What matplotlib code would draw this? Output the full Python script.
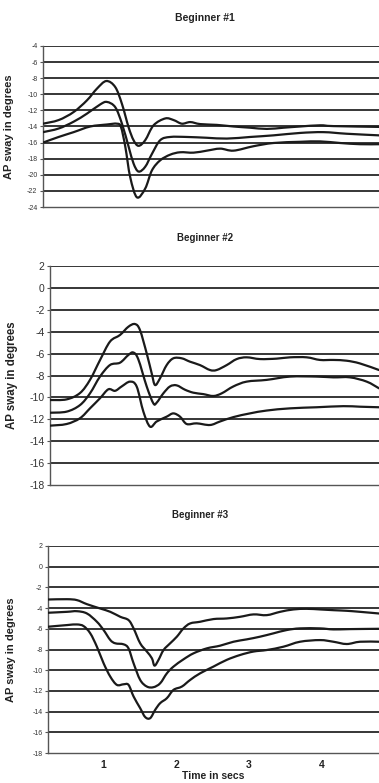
import matplotlib
matplotlib.use("Agg")
import matplotlib.pyplot as plt
from matplotlib.path import Path
from matplotlib.patches import PathPatch
import numpy as np

plt.rcParams['font.family'] = ['Liberation Sans', 'DejaVu Sans']

# ---------------- Beginner #1 ----------------
b1_top_t = [0.236, 0.448, 0.651, 0.831, 0.966, 1.093, 1.214, 1.305, 1.395, 1.462, 1.530, 1.620, 1.733, 1.891, 2.004, 2.116, 2.229, 2.364, 2.590, 2.815, 3.041, 3.266, 3.492, 3.717, 3.988, 4.168, 4.785]
b1_top_v = [-13.65, -13.2, -12.2, -10.75, -9.3, -8.35, -9.1, -11.2, -14.1, -15.7, -16.4, -15.7, -13.85, -13.0, -13.2, -13.65, -13.45, -13.7, -13.8, -14.0, -14.15, -14.3, -14.15, -14.0, -13.85, -13.95, -14.05]

b1_mid_t = [0.236, 0.448, 0.651, 0.831, 1.012, 1.102, 1.214, 1.305, 1.395, 1.462, 1.530, 1.620, 1.711, 1.823, 1.958, 2.184, 2.454, 2.725, 3.041, 3.356, 3.717, 4.033, 4.348, 4.785]
b1_mid_v = [-14.7, -14.25, -13.4, -12.4, -11.25, -10.95, -11.6, -13.65, -16.5, -18.6, -19.6, -19.0, -17.4, -15.7, -15.3, -15.3, -15.4, -15.5, -15.3, -15.1, -14.8, -14.7, -14.9, -15.1]

b1_bot_t = [0.236, 0.448, 0.651, 0.876, 1.102, 1.237, 1.291, 1.350, 1.417, 1.508, 1.620, 1.711, 1.823, 1.958, 2.094, 2.274, 2.454, 2.635, 2.815, 3.086, 3.356, 3.717, 3.988, 4.258, 4.529, 4.785]
b1_bot_v = [-16.0, -15.3, -14.7, -14.0, -13.75, -13.65, -14.05, -16.5, -20.3, -22.8, -21.7, -19.45, -18.2, -17.5, -17.2, -17.25, -17.0, -16.75, -17.0, -16.45, -16.05, -15.9, -15.85, -16.05, -16.2, -16.2]

# ---------------- Beginner #2 ----------------
b2_top_t = [0.236, 0.466, 0.651, 0.789, 0.927, 1.066, 1.204, 1.319, 1.411, 1.480, 1.573, 1.642, 1.688, 1.757, 1.849, 1.941, 2.057, 2.172, 2.310, 2.448, 2.540, 2.679, 2.817, 2.955, 3.140, 3.370, 3.555, 3.785, 3.969, 4.154, 4.338, 4.522, 4.785]
b2_top_v = [-10.24, -10.18, -9.6, -8.4, -6.6, -4.9, -4.3, -3.55, -3.3, -3.85, -5.98, -7.8, -8.87, -8.26, -7.05, -6.43, -6.43, -6.74, -7.05, -7.5, -7.5, -7.05, -6.5, -6.34, -6.5, -6.46, -6.34, -6.34, -6.58, -6.58, -6.65, -6.9, -7.5]

b2_mid_t = [0.236, 0.466, 0.651, 0.789, 0.927, 1.066, 1.204, 1.319, 1.388, 1.457, 1.573, 1.665, 1.711, 1.803, 1.895, 1.987, 2.103, 2.218, 2.356, 2.494, 2.610, 2.771, 2.955, 3.232, 3.555, 3.923, 4.154, 4.384, 4.615, 4.785]
b2_mid_v = [-11.4, -11.3, -10.7, -9.63, -8.1, -7.04, -6.83, -6.13, -5.9, -6.52, -9.0, -10.54, -10.48, -9.63, -9.0, -8.9, -9.3, -9.57, -9.7, -9.87, -9.63, -9.0, -8.56, -8.4, -8.1, -8.1, -8.17, -8.17, -8.56, -9.17]

b2_bot_t = [0.236, 0.466, 0.651, 0.789, 0.927, 1.043, 1.135, 1.227, 1.342, 1.434, 1.527, 1.619, 1.711, 1.849, 1.941, 2.034, 2.126, 2.264, 2.448, 2.587, 2.771, 3.001, 3.232, 3.555, 3.923, 4.292, 4.522, 4.785]
b2_bot_v = [-12.58, -12.43, -11.9, -11.0, -10.08, -9.26, -9.4, -9.0, -8.56, -9.0, -11.3, -12.67, -12.2, -11.76, -11.46, -11.76, -12.43, -12.37, -12.52, -12.2, -11.8, -11.46, -11.2, -11.0, -10.9, -10.8, -10.85, -10.9]

# ---------------- Beginner #3 ----------------
b3_top_t = [0.236, 0.497, 0.634, 0.771, 0.954, 1.092, 1.229, 1.343, 1.412, 1.503, 1.595, 1.664, 1.700, 1.755, 1.824, 1.915, 2.007, 2.098, 2.190, 2.327, 2.510, 2.693, 2.876, 3.059, 3.243, 3.426, 3.609, 3.792, 3.975, 4.158, 4.341, 4.524, 4.785]
b3_top_v = [-3.17, -3.14, -3.23, -3.62, -4.04, -4.36, -4.84, -5.16, -5.96, -7.4, -8.2, -8.85, -9.56, -9.0, -8.05, -7.4, -6.76, -5.96, -5.48, -5.32, -5.06, -5.0, -4.84, -4.61, -4.68, -4.36, -4.13, -4.07, -4.13, -4.2, -4.26, -4.36, -4.52]

b3_mid_t = [0.236, 0.497, 0.634, 0.771, 0.908, 1.0, 1.092, 1.160, 1.275, 1.343, 1.412, 1.503, 1.595, 1.686, 1.778, 1.870, 1.961, 2.098, 2.236, 2.419, 2.602, 2.785, 2.968, 3.151, 3.334, 3.517, 3.700, 3.975, 4.158, 4.387, 4.785]
b3_mid_v = [-4.45, -4.36, -4.3, -4.52, -5.32, -6.12, -7.08, -7.4, -7.5, -7.9, -9.33, -10.94, -11.58, -11.64, -11.26, -10.3, -9.65, -8.95, -8.37, -7.89, -7.63, -7.25, -7.02, -6.76, -6.44, -6.12, -5.96, -5.96, -6.06, -6.03, -6.0]

b3_bot_t = [0.236, 0.497, 0.634, 0.725, 0.817, 0.908, 1.0, 1.092, 1.183, 1.275, 1.343, 1.412, 1.503, 1.572, 1.641, 1.709, 1.778, 1.870, 1.961, 2.076, 2.190, 2.327, 2.510, 2.693, 2.876, 3.059, 3.243, 3.471, 3.700, 3.975, 4.158, 4.341, 4.524, 4.785]
b3_bot_v = [-5.8, -5.64, -5.58, -5.74, -6.44, -7.73, -9.33, -10.62, -11.42, -11.36, -11.42, -12.54, -13.67, -14.53, -14.63, -13.83, -13.18, -12.7, -11.9, -11.58, -10.94, -10.3, -9.65, -9.0, -8.53, -8.2, -8.05, -7.73, -7.25, -7.09, -7.25, -7.47, -7.25, -7.25]

titles = ["Beginner #1", "Beginner #2", "Beginner #3"]
ylabel = "AP sway in degrees"
xlabel = "Time in secs"
x_ticks = [1, 2, 3, 4]
x_range = (0.236, 4.785)
y_ranges = [(-24, -4), (-18, 2), (-18, 2)]

panels = [
    [(b1_top_t, b1_top_v), (b1_mid_t, b1_mid_v), (b1_bot_t, b1_bot_v)],
    [(b2_top_t, b2_top_v), (b2_mid_t, b2_mid_v), (b2_bot_t, b2_bot_v)],
    [(b3_top_t, b3_top_v), (b3_mid_t, b3_mid_v), (b3_bot_t, b3_bot_v)],
]


def smooth_path(t, v):
    """Smoothed line through the data points (Bezier segments, like a
    spreadsheet 'smoothed line'), drawn in data coordinates."""
    p = np.column_stack([t, v]).astype(float)
    n = len(p)
    verts = [p[0]]
    codes = [Path.MOVETO]
    for k in range(n - 1):
        p0 = p[k - 1] if k > 0 else p[k]
        p1 = p[k]
        p2 = p[k + 1]
        p3 = p[k + 2] if k + 2 < n else p[k + 1]
        c1 = p1 + (p2 - p0) / 6.0
        c2 = p2 - (p3 - p1) / 6.0
        verts += [c1, c2, p2]
        codes += [Path.CURVE4] * 3
    return Path(verts, codes)


W, H = 379, 783
fig = plt.figure(figsize=(W / 100, H / 100), dpi=100)

boxes = [(43, 46, 207), (50, 266, 485), (48, 546, 753)]
title_y = [18, 238, 515]
title_x = [205, 205, 200]
title_fs = [7.5, 7.0, 7.0]
tick_fs = [5.0, 7.5, 5.0]
ylab_fs = [8.0, 8.3, 8.0]
ylab_x = [9, 12, 11]

for i, (l, t, b) in enumerate(boxes):
    ax = fig.add_axes([l / W, 1 - b / H, (W - l) / W, (b - t) / H])
    ymin, ymax = y_ranges[i]
    ax.set_xlim(*x_range)
    ax.set_ylim(ymin, ymax)
    yt = np.arange(ymin, ymax + 1, 2)
    ax.set_yticks(yt)
    ax.set_yticklabels([str(v) for v in yt])
    for v in yt[1:]:
        ax.axhline(v, color='black', lw=1.1, zorder=1)
    for tt, vv in panels[i]:
        patch = PathPatch(smooth_path(tt, vv), fill=False, edgecolor='#1a1a1a',
                          lw=1.6, joinstyle='round', capstyle='round', zorder=3)
        ax.add_patch(patch)
    for s in ['top', 'right']:
        ax.spines[s].set_visible(False)
    for s in ['left', 'bottom']:
        ax.spines[s].set_color('#555555')
        ax.spines[s].set_linewidth(1.0)
    ax.tick_params(axis='y', length=2.5, width=0.8, color='#555555',
                   labelsize=tick_fs[i], labelcolor='#333333', pad=1.5)
    if i < 2:
        ax.set_xticks([])
    else:
        ax.set_xticks(x_ticks)
        ax.set_xticklabels([str(v) for v in x_ticks], fontweight='bold',
                           fontsize=7.5, color='#222222')
        ax.tick_params(axis='x', length=0, pad=5)
        ax.set_xlabel(xlabel, fontweight='bold', fontsize=7.5, labelpad=1,
                      color='#222222')
    fig.text(title_x[i] / W, 1 - title_y[i] / H, titles[i], ha='center',
             va='center', fontweight='bold', fontsize=title_fs[i], color='#222222')
    fig.text(ylab_x[i] / W, 1 - (t + b) / 2 / H, ylabel, rotation=90,
             ha='center', va='center', fontweight='bold', fontsize=ylab_fs[i],
             color='#222222')

fig.savefig("out.png", dpi=100)
